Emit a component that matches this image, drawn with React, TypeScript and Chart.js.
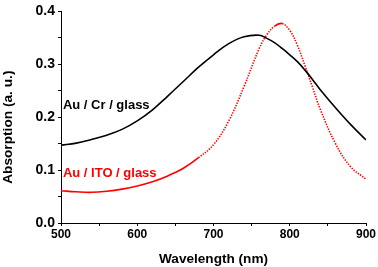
import React, { useEffect, useRef } from "react";
import { Chart, registerables } from "chart.js";

Chart.register(...registerables);

const wavelengths = [500, 520, 540, 560, 580, 600, 620, 640, 660, 680, 700, 720, 740, 760, 770, 780, 790, 800, 810, 820, 830, 840, 860, 880, 900];
const auCrGlass = [0.147, 0.151, 0.158, 0.166, 0.177, 0.193, 0.214, 0.240, 0.267, 0.294, 0.318, 0.339, 0.352, 0.355, 0.349, 0.341, 0.330, 0.318, 0.305, 0.289, 0.271, 0.252, 0.218, 0.186, 0.157];
const auItoGlass = [0.061, 0.059, 0.058, 0.060, 0.064, 0.070, 0.078, 0.089, 0.103, 0.123, 0.148, 0.193, 0.258, 0.330, 0.356, 0.372, 0.377, 0.364, 0.336, 0.297, 0.256, 0.215, 0.150, 0.106, 0.083];
const xTicks = [500, 600, 700, 800, 900];
const yTicks = [0.0, 0.1, 0.2, 0.3, 0.4];
const seriesLabels = ["Au / Cr / glass", "Au / ITO / glass"];
const seriesColors = ["#000000", "#ff0000"];
const xTitle = "Wavelength (nm)";
const yTitle = "Absorption (a. u.)";
const labelAnchors = [
  { x: 502.5, y: 0.223 },
  { x: 502.5, y: 0.093 },
];

const FONT = "'Liberation Sans', Arial, sans-serif";

const labelPlugin = {
  id: "seriesLabels",
  afterDatasetsDraw(chart: any) {
    const { ctx, scales, chartArea } = chart;
    ctx.save();
    ctx.font = `bold 13px ${FONT}`;
    ctx.textAlign = "left";
    ctx.textBaseline = "middle";
    labelAnchors.forEach((a, i) => {
      ctx.fillStyle = seriesColors[i];
      ctx.fillText(seriesLabels[i], scales.x.getPixelForValue(a.x), scales.y.getPixelForValue(a.y));
    });
    // y axis title
    ctx.fillStyle = "#000";
    ctx.font = `bold 13.7px ${FONT}`;
    ctx.textAlign = "center";
    ctx.translate(8, (chartArea.top + chartArea.bottom) / 2 + 10);
    ctx.rotate(-Math.PI / 2);
    ctx.fillText(yTitle, 0, 0);
    ctx.restore();
  },
};

export default function App() {
  const ref = useRef<HTMLCanvasElement>(null);
  useEffect(() => {
    if (!ref.current) return;
    const chart = new Chart(ref.current, {
      type: "line",
      data: {
        datasets: [
          {
            label: seriesLabels[0],
            data: wavelengths.map((w, i) => ({ x: w, y: auCrGlass[i] })),
            borderColor: seriesColors[0],
            borderWidth: 1.6,
            pointRadius: 0,
            tension: 0.4,
            fill: false,
          },
          {
            label: seriesLabels[1],
            data: wavelengths.map((w, i) => ({ x: w, y: auItoGlass[i] })),
            borderColor: seriesColors[1],
            borderWidth: 1.6,
            pointRadius: 0,
            tension: 0.4,
            fill: false,
            segment: {
              borderDash: (ctx: any) => {
                const dx = Math.abs(ctx.p1.x - ctx.p0.x);
                const dy = Math.abs(ctx.p1.y - ctx.p0.y);
                return dy > dx * 0.75 ? [1.4, 1.3] : undefined;
              },
            },
          },
        ],
      },
      options: {
        animation: false,
        responsive: false,
        layout: { padding: { top: 7, right: 12, left: 0, bottom: 0 } },
        plugins: { legend: { display: false }, tooltip: { enabled: false } },
        scales: {
          x: {
            type: "linear",
            min: 500,
            max: 900,
            afterFit: (s: any) => { s.height = 44; },
            grid: { display: true, drawOnChartArea: false, drawTicks: true, tickLength: 3, tickColor: "#000", tickWidth: 1 },
            border: { display: true, color: "#000", width: 1 },
            ticks: {
              stepSize: 50,
              autoSkip: false,
              maxRotation: 0,
              padding: 1,
              color: "#000",
              font: { family: FONT, size: 12, weight: "bold" },
              callback: (v: any) => (xTicks.includes(Number(v)) ? String(v) : ""),
            },
            title: {
              display: true,
              text: xTitle,
              color: "#000",
              font: { family: FONT, size: 13.6, weight: "bold" },
              padding: { top: 0, bottom: 0 },
            },
          },
          y: {
            type: "linear",
            min: 0,
            max: 0.4,
            afterFit: (s: any) => { s.width = 61; },
            grid: { display: true, drawOnChartArea: false, drawTicks: true, tickLength: 3, tickColor: "#000", tickWidth: 1 },
            border: { display: true, color: "#000", width: 1 },
            ticks: {
              stepSize: 0.05,
              autoSkip: false,
              padding: 3,
              color: "#000",
              font: { family: FONT, size: 14, weight: "bold" },
              callback: (v: any) => {
                const n = Number(v);
                const hit = yTicks.find((t) => Math.abs(t - n) < 1e-6);
                return hit !== undefined ? hit.toFixed(1) : "";
              },
            },
            title: { display: false },
          },
        },
      },
      plugins: [labelPlugin],
    } as any);
    return () => chart.destroy();
  }, []);
  return (
    <div style={{ position: "fixed", left: 0, top: 0, width: 378, height: 267, background: "#fff" }}>
      <canvas ref={ref} width={378} height={267} style={{ display: "block" }} />
    </div>
  );
}
